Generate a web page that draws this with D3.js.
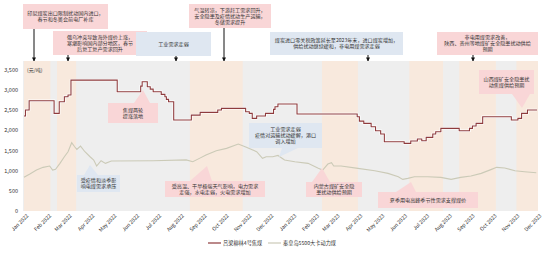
<!DOCTYPE html>
<html>
<head>
<meta charset="utf-8">
<script src="https://cdn.jsdelivr.net/npm/d3@7"></script>
<style>
body { margin: 0; background: #fff; }
text { font-family: "Noto Sans CJK SC", "Liberation Sans", sans-serif; }
</style>
</head>
<body>
<script>
// 吕梁柳林4号焦煤 (元/吨)
var cokingCoal = [
  ["2022-01-01", 2342], ["2022-01-03", 2490], ["2022-01-08", 2720], ["2022-02-11", 2408],
  ["2022-02-18", 2695], ["2022-02-25", 2818], ["2022-03-02", 2860], ["2022-03-06", 3229],
  ["2022-05-08", 2942], ["2022-06-09", 3081], ["2022-06-11", 3188], ["2022-06-18", 3065],
  ["2022-06-22", 3007], ["2022-06-26", 2942], ["2022-07-07", 2876], ["2022-07-12", 2818],
  ["2022-07-14", 2753], ["2022-07-17", 2695], ["2022-07-24", 2243], ["2022-08-17", 2366],
  ["2022-08-29", 2432], ["2022-09-22", 2490], ["2022-09-27", 2531], ["2022-10-30", 2448],
  ["2022-11-04", 2408], ["2022-11-08", 2285], ["2022-11-14", 2342], ["2022-11-26", 2408],
  ["2022-12-07", 2507], ["2022-12-09", 2571], ["2022-12-13", 2638], ["2023-01-08", 2391],
  ["2023-03-31", 2325], ["2023-04-03", 2218], ["2023-04-09", 2161], ["2023-04-19", 2078],
  ["2023-04-25", 1980], ["2023-05-02", 1898], ["2023-05-07", 1708], ["2023-06-03", 1669],
  ["2023-06-12", 1725], ["2023-06-21", 1775], ["2023-06-27", 1733], ["2023-07-03", 1816],
  ["2023-07-12", 1898], ["2023-07-16", 1955], ["2023-07-23", 2038], ["2023-08-17", 1980],
  ["2023-08-31", 2038], ["2023-09-04", 2095], ["2023-09-09", 2161], ["2023-09-18", 2325],
  ["2023-10-27", 2243], ["2023-11-05", 2285], ["2023-11-10", 2408], ["2023-11-18", 2490],
  ["2023-12-01", 2490]
];

// 秦皇岛5500大卡动力煤 (元/吨)
var thermalCoal = [
  ["2022-01-01", 830], ["2022-01-09", 912], ["2022-01-18", 1010], ["2022-01-27", 1077],
  ["2022-02-05", 1109], ["2022-02-09", 1010], ["2022-02-13", 1027], ["2022-02-19", 1175],
  ["2022-02-25", 1338], ["2022-03-02", 1462], ["2022-03-07", 1684], ["2022-03-11", 1585],
  ["2022-03-14", 1520], ["2022-03-19", 1602], ["2022-03-25", 1462], ["2022-04-01", 1338],
  ["2022-04-06", 1257], ["2022-04-10", 1109], ["2022-04-16", 1240], ["2022-04-22", 1175],
  ["2022-04-30", 1232], ["2022-06-26", 1240], ["2022-08-10", 1260], ["2022-08-19", 1215],
  ["2022-08-28", 1298], ["2022-09-06", 1380], ["2022-09-20", 1487], ["2022-10-04", 1545],
  ["2022-10-20", 1652], ["2022-10-31", 1570], ["2022-11-14", 1462], ["2022-11-22", 1298],
  ["2022-11-27", 1338], ["2022-12-06", 1338], ["2022-12-13", 1370], ["2022-12-22", 1257],
  ["2023-01-05", 1215], ["2023-01-23", 1175], ["2023-02-06", 1052], ["2023-02-12", 1010],
  ["2023-02-19", 1158], ["2023-02-24", 1191], ["2023-02-27", 1109], ["2023-03-09", 1109],
  ["2023-04-01", 1052], ["2023-04-24", 993], ["2023-05-12", 928], ["2023-05-26", 846],
  ["2023-06-01", 780], ["2023-06-08", 805], ["2023-06-17", 846], ["2023-07-05", 846],
  ["2023-07-23", 830], ["2023-08-06", 780], ["2023-08-19", 830], ["2023-09-02", 863],
  ["2023-09-16", 928], ["2023-09-30", 1027], ["2023-10-07", 1077], ["2023-10-18", 1060],
  ["2023-11-01", 993], ["2023-11-14", 970], ["2023-11-30", 945]
];

// shaded periods
var bands = [
  ["2022-01-01", "2022-02-06"], ["2022-02-15", "2022-03-13"], ["2022-08-15", "2022-10-26"],
  ["2023-02-11", "2023-04-01"], ["2023-06-10", "2023-07-26"], ["2023-08-17", "2023-10-06"],
  ["2023-11-03", "2023-12-03"]
];

var seriesNames = ["吕梁柳林4号焦煤", "秦皇岛5500大卡动力煤"];
var yTicks = [0, 500, 1000, 1500, 2000, 2500, 3000, 3500];

var notes = [
  ["印尼煤炭出口限制扰动国内进口，", "春节和冬奥会前电厂补库"],
  ["俄乌冲突导致海外煤价上涨，", "寒潮影响国内部分地区，春节", "后复工复产需求回升"],
  ["工业需求走弱"],
  ["气温转凉，下游赶工需求回升，", "安全隐患及疫情扰动生产运输，", "冬储需求提升"],
  ["煤炭进口零关税政策延长至2023年末，进口煤炭增加，", "供给扰动继续缓和，非电用煤需求走弱"],
  ["非电用煤需求改善，", "陕西、贵州等地煤矿安全隐患扰动供给", "预期"],
  ["焦煤两轮", "提涨落地"],
  ["受疫情和淡季影", "响电煤需求承压"],
  ["受高温、干旱极端天气影响，电力需求", "走强，水电走弱，火电需求增加"],
  ["工业需求走弱", "疫情对运输扰动缓解，港口", "调入增加"],
  ["内蒙古煤矿安全隐", "患扰动供给预期"],
  ["夏季用电高峰季节性需求支撑煤价"],
  ["山西煤矿安全隐患扰", "动焦煤供给预期"]
];

/*** Layout ***/
var w = 550, h = 254;
var x0 = 23, x1 = 538, yTop = 61, yBot = 211;
var pink = "#f9d6d7", blue = "#dfe7f1";
var textColor = "#333";

var parse = d3.timeParse("%Y-%m-%d");

var svg = d3.select("body").append("svg")
  .attr("width", w).attr("height", h);

// tiny text: draw at double size and scale down (avoids browser minimum font size)
function smallText(parent, x, y, str, size, anchor) {
  return parent.append("text")
    .attr("transform", "translate(" + x + "," + y + ") scale(0.5)")
    .attr("dy", "0.35em")
    .attr("text-anchor", anchor || "start")
    .attr("font-size", size * 2)
    .attr("fill", textColor)
    .text(str);
}

var xScale = d3.scaleTime()
  .domain([parse("2022-01-01"), parse("2023-12-01")])
  .range([24, 537]);
var yScale = d3.scaleLinear()
  .domain([0, 3700])
  .range([yBot, yTop]);

/*** background + bands ***/
svg.append("rect")
  .attr("x", x0).attr("y", yTop)
  .attr("width", x1 - x0).attr("height", yBot - yTop)
  .attr("fill", "#eeeeee");

svg.selectAll(".band").data(bands).enter().append("rect")
  .attr("class", "band")
  .attr("x", function(d) { return Math.max(x0, xScale(parse(d[0]))); })
  .attr("y", yTop)
  .attr("width", function(d) {
    return Math.min(x1, xScale(parse(d[1]))) - Math.max(x0, xScale(parse(d[0])));
  })
  .attr("height", yBot - yTop)
  .attr("fill", "#f8e9dd");

/*** axes ***/
var yAxis = d3.axisLeft(yScale).tickValues(yTicks).tickSize(0).tickPadding(0)
  .tickFormat(d3.format(","));
var gy = svg.append("g").attr("transform", "translate(" + (x0 - 5) + ",0)").call(yAxis);
gy.select(".domain").remove();
gy.selectAll("text")
  .attr("x", 0).attr("dy", "0.35em")
  .attr("font-size", 11).attr("fill", textColor)
  .attr("font-family", "Liberation Sans, Arial, sans-serif")
  .attr("transform", "scale(0.5)");

var xAxis = d3.axisBottom(xScale).ticks(d3.timeMonth.every(1)).tickSize(0)
  .tickFormat(d3.timeFormat("%b %Y"));
var gx = svg.append("g").attr("transform", "translate(0," + yBot + ")").call(xAxis);
gx.select(".domain").remove();
gx.selectAll("text")
  .attr("font-size", 10.4).attr("fill", textColor)
  .attr("font-family", "Liberation Sans, Arial, sans-serif")
  .attr("text-anchor", "end")
  .attr("dy", "0.35em").attr("y", 0)
  .attr("transform", "translate(3,4) rotate(-45) scale(0.5)");

smallText(svg, 27, 70, "(元/吨)", 5);

/*** lines ***/
var line = d3.line()
  .x(function(d) { return xScale(parse(d[0])); })
  .y(function(d) { return yScale(d[1]); });

svg.append("path").datum(thermalCoal)
  .attr("d", line.curve(d3.curveLinear))
  .attr("fill", "none").attr("stroke", "#cbcab7").attr("stroke-width", 1.1);

svg.append("path").datum(cokingCoal)
  .attr("d", line.curve(d3.curveStepAfter))
  .attr("fill", "none").attr("stroke", "#fff").attr("stroke-width", 2.4);
svg.append("path").datum(cokingCoal)
  .attr("d", line.curve(d3.curveStepAfter))
  .attr("fill", "none").attr("stroke", "#8e3b3d").attr("stroke-width", 1.1);

/*** annotations ***/
// box: [left, top, right, bottom]; arrow: x (top boxes); tail: callout triangle
var noteLayout = [
  { box: [23, 4, 108, 29], fill: pink, arrow: 34 },
  { box: [53, 31, 147, 55], fill: pink, arrow: 68 },
  { box: [136, 32, 211, 56], fill: blue, arrow: 176 },
  { box: [189, 4, 271, 28], fill: pink, arrow: 224 },
  { box: [270, 32, 403, 55], fill: blue, arrow: 368 },
  { box: [437, 32, 538, 55], fill: pink, arrow: 473 },
  { box: [108, 103, 158, 123], fill: pink, tail: [[134, 103], [150, 103], [143, 90]] },
  { box: [77, 175, 120, 192], fill: blue, tail: [[84, 175], [98, 175], [90, 165]] },
  { box: [165, 181, 265, 197], fill: pink, tail: [[190, 181], [212, 181], [207, 166]] },
  { box: [249, 123, 322, 148], fill: blue, tail: [[282, 148], [298, 148], [279, 157]] },
  { box: [306, 182, 362, 197], fill: pink, tail: [[312, 182], [330, 182], [322, 168]] },
  { box: [378, 192, 478, 208], fill: pink, tail: [[396, 192], [416, 192], [411, 182]] },
  { box: [479, 70, 534, 94], fill: pink, tail: [[512, 94], [530, 94], [522, 108]] }
];

svg.append("defs").append("marker")
  .attr("id", "ah").attr("viewBox", "0 0 10 10")
  .attr("refX", 9).attr("refY", 5)
  .attr("markerWidth", 4).attr("markerHeight", 4)
  .attr("orient", "auto")
  .append("path").attr("d", "M0,0L10,5L0,10z").attr("fill", "#111");

var lineH = 6.2;
noteLayout.forEach(function(n, i) {
  var b = n.box;
  var g = svg.append("g");
  if (n.tail) {
    g.append("path")
      .attr("d", "M" + n.tail.map(function(p) { return p.join(","); }).join("L") + "Z")
      .attr("fill", n.fill);
  }
  g.append("rect")
    .attr("x", b[0]).attr("y", b[1])
    .attr("width", b[2] - b[0]).attr("height", b[3] - b[1])
    .attr("fill", n.fill);
  var lines = notes[i];
  var cy = (b[1] + b[3]) / 2 - (lines.length - 1) * lineH / 2;
  lines.forEach(function(s, j) {
    smallText(g, (b[0] + b[2]) / 2, cy + j * lineH, s, 5.1, "middle");
  });
  if (n.arrow) {
    svg.append("line")
      .attr("x1", n.arrow).attr("x2", n.arrow)
      .attr("y1", b[3]).attr("y2", yTop)
      .attr("stroke", "#111").attr("stroke-width", 1)
      .attr("marker-end", "url(#ah)");
  }
});

/*** legend ***/
var legendColors = ["#8e3b3d", "#cbcab7"];
var legendX = [208, 268];
var lg = svg.selectAll(".lg").data(seriesNames).enter().append("g")
  .attr("class", "lg")
  .attr("transform", function(d, i) { return "translate(" + legendX[i] + ",243)"; });
lg.append("line").attr("x1", 0).attr("x2", 13).attr("y1", 0).attr("y2", 0)
  .attr("stroke", function(d, i) { return legendColors[i]; }).attr("stroke-width", 1.2);
lg.each(function(d) { smallText(d3.select(this), 15, 0, d, 5.2); });
</script>
</body>
</html>
